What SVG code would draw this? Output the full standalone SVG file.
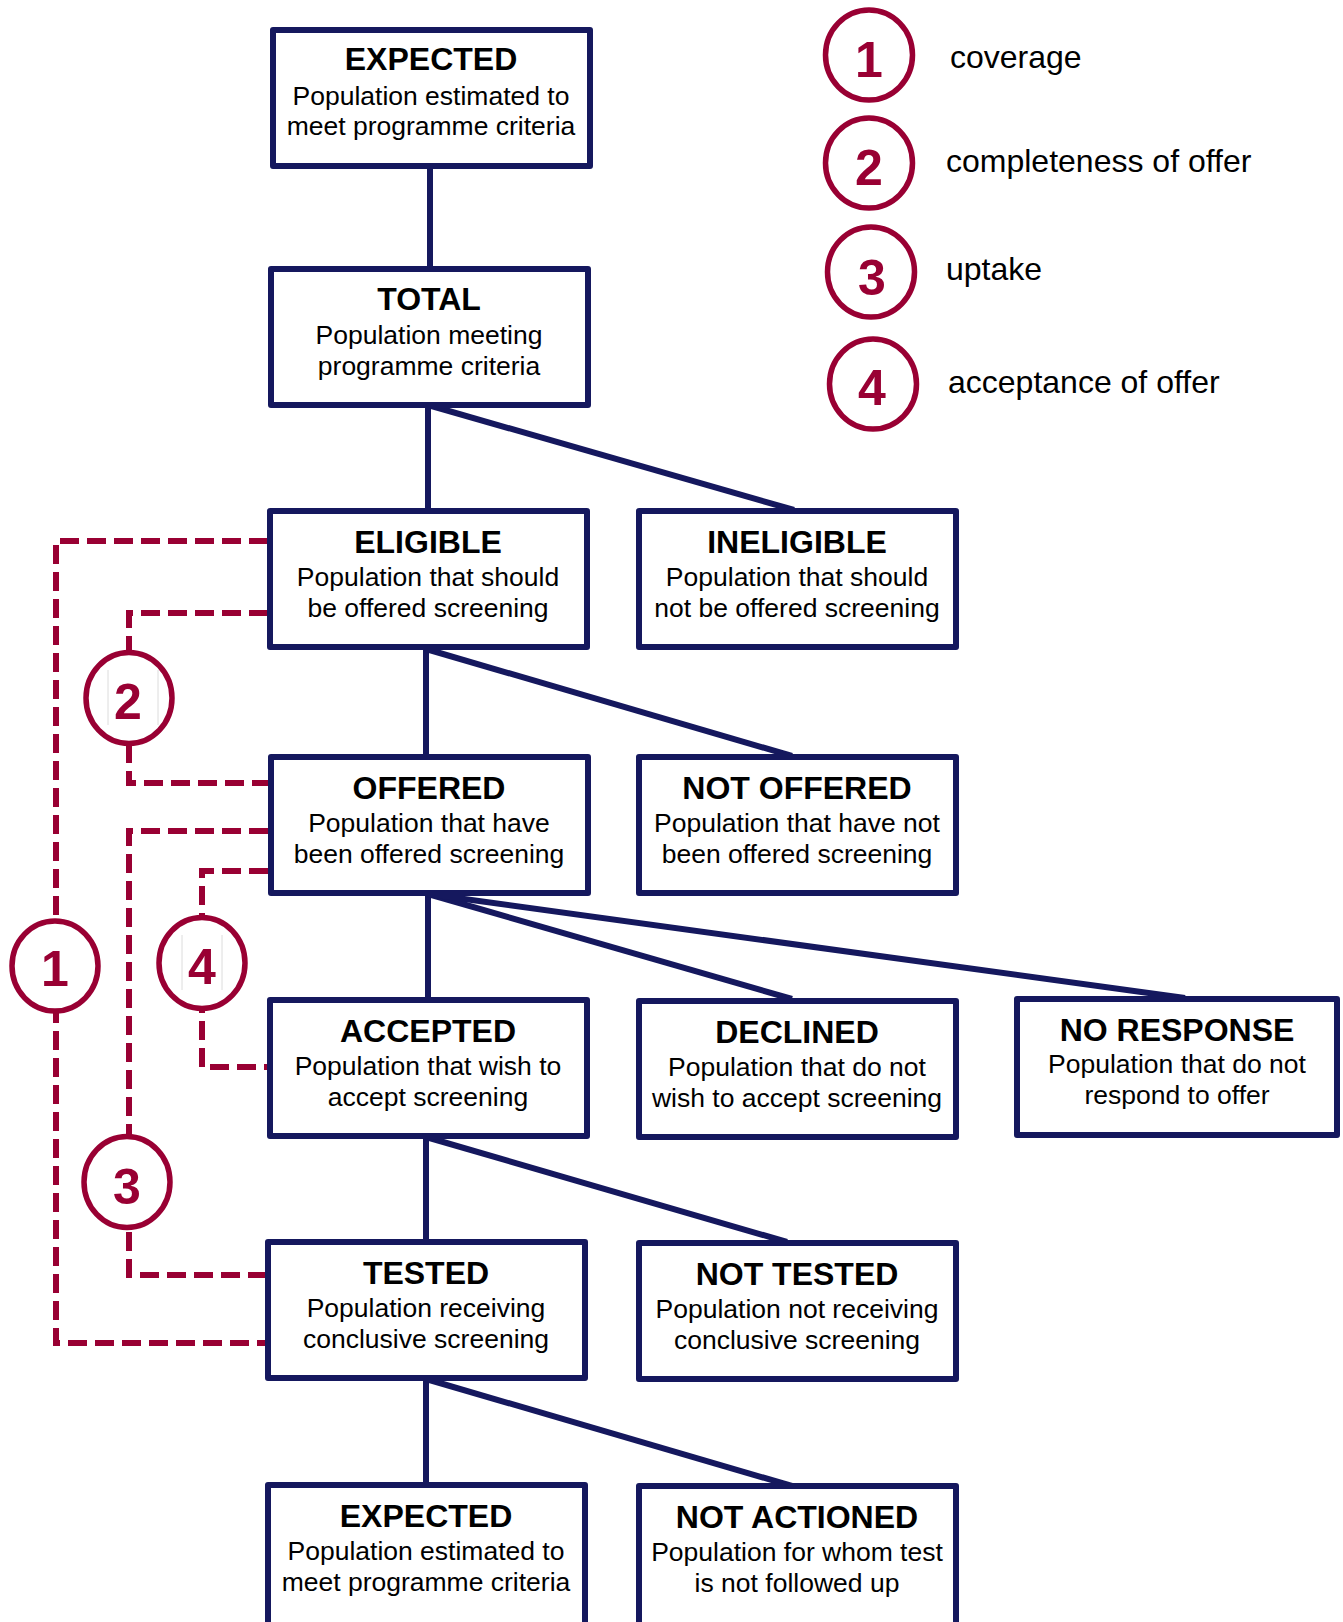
<svg xmlns="http://www.w3.org/2000/svg" width="1343" height="1622" viewBox="0 0 1343 1622">
<style>
.box{fill:#fff;stroke:#15185e;stroke-width:6;stroke-linejoin:round}
.con{stroke:#15185e;stroke-width:6;fill:none}
.dash{stroke:#990033;stroke-width:6;fill:none;stroke-dasharray:19 8}
.ring{fill:#fff;stroke:#990033;stroke-width:5.5}
.num{font-family:"Liberation Sans",Arial,sans-serif;font-weight:bold;font-size:50px;fill:#990033;text-anchor:middle}
.t{font-family:"Liberation Sans",Arial,sans-serif;font-weight:bold;font-size:32px;fill:#000;text-anchor:middle}
.b{font-family:"Liberation Sans",Arial,sans-serif;font-size:26.5px;fill:#000;text-anchor:middle}
.leg{font-family:"Liberation Sans",Arial,sans-serif;font-size:32px;fill:#000}
.art{stroke:#dcdcdc;stroke-width:1}
</style>
<rect width="1343" height="1622" fill="#fff"/>
<g id="connectors">
<line class="con" x1="430" y1="166" x2="430" y2="268"/>
<line class="con" x1="428" y1="405" x2="428" y2="510"/>
<line class="con" x1="428" y1="405" x2="794" y2="510"/>
<line class="con" x1="426" y1="649" x2="426" y2="756"/>
<line class="con" x1="426" y1="649" x2="792" y2="756"/>
<line class="con" x1="428" y1="894" x2="428" y2="999"/>
<line class="con" x1="428" y1="894" x2="792" y2="999"/>
<line class="con" x1="428" y1="894" x2="1185" y2="998"/>
<line class="con" x1="426" y1="1137" x2="426" y2="1241"/>
<line class="con" x1="426" y1="1137" x2="787" y2="1242"/>
<line class="con" x1="426" y1="1379" x2="426" y2="1484"/>
<line class="con" x1="426" y1="1379" x2="792" y2="1486"/>
<path class="dash" d="M268,541 H56 V1343 H266"/>
<path class="dash" d="M268,613 H129 V783 H268"/>
<path class="dash" d="M268,831 H129 V1275 H266"/>
<path class="dash" d="M268,871 H202 V1067 H268"/>
</g>
<g id="expected-top"><rect class="box" x="273" y="30" width="317" height="136"/><text class="t" x="431" y="70">EXPECTED</text><text class="b" x="431" y="105">Population estimated to</text><text class="b" x="431" y="135">meet programme criteria</text></g>
<g id="total"><rect class="box" x="271" y="269" width="317" height="136"/><text class="t" x="429" y="310">TOTAL</text><text class="b" x="429" y="344">Population meeting</text><text class="b" x="429" y="375">programme criteria</text></g>
<g id="eligible"><rect class="box" x="270" y="511" width="317" height="136"/><text class="t" x="428" y="553">ELIGIBLE</text><text class="b" x="428" y="586">Population that should</text><text class="b" x="428" y="617">be offered screening</text></g>
<g id="ineligible"><rect class="box" x="639" y="511" width="317" height="136"/><text class="t" x="797" y="553">INELIGIBLE</text><text class="b" x="797" y="586">Population that should</text><text class="b" x="797" y="617">not be offered screening</text></g>
<g id="offered"><rect class="box" x="271" y="757" width="317" height="136"/><text class="t" x="429" y="799">OFFERED</text><text class="b" x="429" y="832">Population that have</text><text class="b" x="429" y="863">been offered screening</text></g>
<g id="not-offered"><rect class="box" x="639" y="757" width="317" height="136"/><text class="t" x="797" y="799">NOT OFFERED</text><text class="b" x="797" y="832">Population that have not</text><text class="b" x="797" y="863">been offered screening</text></g>
<g id="accepted"><rect class="box" x="270" y="1000" width="317" height="136"/><text class="t" x="428" y="1042">ACCEPTED</text><text class="b" x="428" y="1075">Population that wish to</text><text class="b" x="428" y="1106">accept screening</text></g>
<g id="declined"><rect class="box" x="639" y="1001" width="317" height="136"/><text class="t" x="797" y="1043">DECLINED</text><text class="b" x="797" y="1076">Population that do not</text><text class="b" x="797" y="1107">wish to accept screening</text></g>
<g id="no-response"><rect class="box" x="1017" y="999" width="320" height="136"/><text class="t" x="1177" y="1041">NO RESPONSE</text><text class="b" x="1177" y="1073">Population that do not</text><text class="b" x="1177" y="1104">respond to offer</text></g>
<g id="tested"><rect class="box" x="268" y="1242" width="317" height="136"/><text class="t" x="426" y="1284">TESTED</text><text class="b" x="426" y="1317">Population receiving</text><text class="b" x="426" y="1348">conclusive screening</text></g>
<g id="not-tested"><rect class="box" x="639" y="1243" width="317" height="136"/><text class="t" x="797" y="1285">NOT TESTED</text><text class="b" x="797" y="1318">Population not receiving</text><text class="b" x="797" y="1349">conclusive screening</text></g>
<g id="expected-bottom"><rect class="box" x="268" y="1485" width="317" height="145"/><text class="t" x="426" y="1527">EXPECTED</text><text class="b" x="426" y="1560">Population estimated to</text><text class="b" x="426" y="1591">meet programme criteria</text></g>
<g id="not-actioned"><rect class="box" x="639" y="1486" width="317" height="145"/><text class="t" x="797" y="1528">NOT ACTIONED</text><text class="b" x="797" y="1561">Population for whom test</text><text class="b" x="797" y="1592">is not followed up</text></g>
<g id="marker-1"><ellipse class="ring" cx="55" cy="966" rx="43" ry="45"/><text class="num" x="55" y="986">1</text></g>
<g id="marker-2"><ellipse class="ring" cx="129" cy="698" rx="43" ry="45.5"/><line class="art" x1="108" y1="670" x2="108" y2="725"/><line class="art" x1="158" y1="670" x2="158" y2="725"/><text class="num" x="128" y="719">2</text></g>
<g id="marker-3"><ellipse class="ring" cx="127" cy="1182" rx="43" ry="45.5"/><text class="num" x="127" y="1204">3</text></g>
<g id="marker-4"><ellipse class="ring" cx="202" cy="963" rx="43" ry="45.5"/><line class="art" x1="182" y1="935" x2="182" y2="990"/><line class="art" x1="222" y1="935" x2="222" y2="990"/><text class="num" x="202" y="984">4</text></g>
<g id="legend">
<ellipse class="ring" cx="869" cy="55" rx="43.5" ry="45"/><text class="num" x="869" y="77">1</text><text class="leg" x="950" y="68">coverage</text>
<ellipse class="ring" cx="869" cy="163" rx="43.5" ry="45"/><text class="num" x="869" y="185">2</text><text class="leg" x="946" y="172">completeness of offer</text>
<ellipse class="ring" cx="871" cy="272" rx="43.5" ry="45"/><text class="num" x="872" y="295">3</text><text class="leg" x="946" y="280">uptake</text>
<ellipse class="ring" cx="873" cy="384" rx="43.5" ry="45"/><text class="num" x="872" y="405">4</text><text class="leg" x="948" y="393">acceptance of offer</text>
</g>
</svg>
